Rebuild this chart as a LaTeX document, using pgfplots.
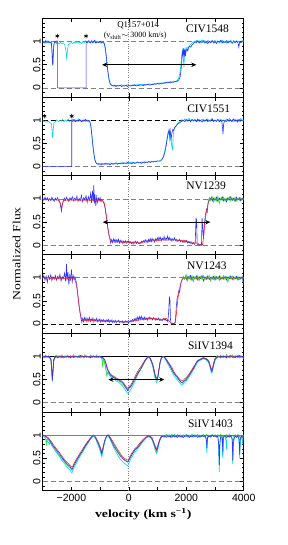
\documentclass[border=0pt]{standalone}
\usepackage{fontspec}
\setmainfont{Liberation Serif}
\setsansfont{Liberation Sans}
\newfontfamily\widefont[FakeStretch=1.25]{Liberation Serif}
\usepackage{pgfplots}
\pgfplotsset{compat=1.18}
\usetikzlibrary{arrows.meta}
\definecolor{sblue}{RGB}{50,50,255}
\definecolor{scyan}{RGB}{0,215,230}
\definecolor{sred}{RGB}{255,40,40}
\definecolor{sgreen}{RGB}{40,225,40}
\tikzset{plab/.style={font=\fontsize{11.5}{13}\selectfont}}
\pgfplotsset{
 panel/.style={scale only axis, width=201pt, height=78.7pt, xmin=-3000, xmax=4000, ymin=-0.2, ymax=1.5, anchor=south west,
  xtick={-3000,-2000,...,4000}, xticklabels={}, ytick={0,0.5,1}, yticklabels={0,0.5,1},
  minor ytick={-0.1,0.1,0.2,0.3,0.4,0.6,0.7,0.8,0.9,1.1,1.2,1.3,1.4},
  tick align=inside, major tick length=4pt, minor tick length=2pt,
  axis line style={line width=0.8pt}, every tick/.style={black, line width=0.6pt},
  yticklabel style={rotate=90, anchor=south, font=\sffamily\fontsize{10.5}{12}\selectfont, inner sep=2pt},
  xticklabel style={font=\sffamily\fontsize{10.5}{12}\selectfont},
  every axis plot/.append style={line width=0.6pt},
 },
 zero/.style={gray, dash pattern=on 5pt off 3pt, line width=0.7pt},
 zdot/.style={gray, dash pattern=on 0.8pt off 1.6pt, line width=0.7pt},
 arr/.style={black, line width=0.9pt, <->, >={Stealth[length=5pt,width=4.5pt]}},
}
\begin{document}
\begin{tikzpicture}
\useasboundingbox (0,0) rectangle (287pt,545pt);

% ---------------- Panel 1: CIV1548
\begin{axis}[panel, at={(42.7pt,447.8pt)}]
\addplot[zero] coordinates {(-3000,0)(4000,0)};
\addplot[zero] coordinates {(-3000,1)(4000,1)};
\addplot[zdot] coordinates {(0,-0.2)(0,1.5)};
\addplot[scyan] coordinates {(-3000,0.98)(-2950,1.01)(-2900,0.97)(-2850,1.02)(-2800,0.98)(-2750,1.00)(-2700,0.96)(-2680,0.80)(-2655,0.50)(-2635,0.70)(-2610,0.93)(-2570,0.99)(-2520,0.96)(-2480,0.98)(-2430,0.95)(-2380,0.98)(-2330,0.96)(-2280,0.97)(-2230,0.93)(-2190,0.80)(-2165,0.65)(-2140,0.80)(-2110,0.93)(-2060,0.96)(-2000,0.98)(-1950,0.96)(-1900,0.99)(-1850,0.97)(-1800,1.00)(-1750,0.97)(-1700,0.99)(-1650,0.96)(-1600,1.00)(-1550,0.98)(-1500,1.02)(-1450,0.97)(-1400,1.00)(-1350,0.98)(-1300,1.03)(-1250,0.97)(-1200,0.99)(-1150,1.02)(-1100,0.98)(-1050,1.00)(-1000,0.97)(-950,1.01)(-900,0.98)(-860,0.95)(-830,0.86)(-800,0.72)(-770,0.55)(-740,0.38)(-710,0.24)(-680,0.14)(-650,0.09)(-620,0.06)(-580,0.05)(-540,0.06)(-500,0.04)(-450,0.06)(-400,0.04)(-350,0.06)(-300,0.05)(-250,0.07)(-200,0.04)(-150,0.06)(-100,0.05)(-50,0.07)(0,0.05)(50,0.06)(100,0.04)(150,0.07)(200,0.05)(250,0.07)(300,0.06)(350,0.08)(400,0.06)(450,0.07)(500,0.08)(550,0.06)(600,0.08)(650,0.07)(700,0.09)(750,0.08)(800,0.07)(850,0.09)(900,0.08)(950,0.10)(1000,0.09)(1050,0.11)(1100,0.10)(1150,0.11)(1200,0.10)(1250,0.12)(1300,0.11)(1350,0.13)(1400,0.12)(1450,0.14)(1500,0.12)(1550,0.14)(1600,0.13)(1650,0.15)(1700,0.17)(1740,0.22)(1780,0.32)(1810,0.50)(1840,0.70)(1870,0.82)(1900,0.60)(1920,0.45)(1940,0.75)(1960,0.85)(1990,0.78)(2020,0.88)(2060,0.85)(2100,0.91)(2150,0.94)(2200,0.97)(2250,1.00)(2300,0.98)(2350,1.03)(2400,0.99)(2450,1.02)(2500,0.98)(2550,1.04)(2600,0.99)(2650,1.02)(2700,0.97)(2750,1.03)(2800,1.00)(2850,0.97)(2900,1.01)(2950,0.99)(3000,1.03)(3050,0.98)(3100,1.02)(3150,0.97)(3200,1.00)(3250,1.03)(3300,0.98)(3350,1.01)(3400,0.97)(3450,1.02)(3500,0.99)(3550,1.03)(3600,0.98)(3650,1.00)(3700,0.97)(3750,1.02)(3800,0.99)(3850,1.01)(3900,0.97)(3950,1.00)(4000,1.02)};
\addplot[sblue] coordinates {(-3000,1.00)(-2950,0.97)(-2900,1.02)(-2850,0.98)(-2800,1.01)(-2750,0.97)(-2700,0.99)(-2680,0.85)(-2660,0.55)(-2645,0.48)(-2630,0.75)(-2610,0.95)(-2570,1.01)(-2530,0.98)(-2500,1.02)(-2490,1.00)(-2490,0)(-1490,0)(-1490,1.00)(-1450,0.98)(-1400,1.02)(-1350,0.97)(-1300,1.00)(-1250,0.98)(-1200,1.03)(-1150,0.97)(-1100,1.00)(-1050,0.98)(-1000,1.01)(-950,0.97)(-900,1.00)(-860,0.97)(-830,0.90)(-800,0.78)(-770,0.60)(-740,0.42)(-710,0.27)(-680,0.16)(-650,0.10)(-620,0.07)(-580,0.05)(-540,0.04)(-500,0.06)(-450,0.03)(-400,0.05)(-350,0.04)(-300,0.06)(-250,0.03)(-200,0.05)(-150,0.04)(-100,0.06)(-50,0.03)(0,0.05)(50,0.04)(100,0.06)(150,0.05)(200,0.07)(250,0.04)(300,0.06)(350,0.05)(400,0.07)(450,0.06)(500,0.05)(550,0.07)(600,0.06)(650,0.08)(700,0.07)(750,0.06)(800,0.08)(850,0.07)(900,0.09)(950,0.08)(1000,0.10)(1050,0.08)(1100,0.10)(1150,0.09)(1200,0.11)(1250,0.10)(1300,0.12)(1350,0.11)(1400,0.12)(1450,0.11)(1500,0.13)(1550,0.12)(1600,0.14)(1650,0.13)(1700,0.15)(1750,0.18)(1790,0.25)(1820,0.40)(1850,0.62)(1870,0.78)(1890,0.70)(1910,0.86)(1930,0.72)(1950,0.83)(1970,0.68)(1990,0.80)(2020,0.84)(2050,0.80)(2080,0.87)(2120,0.90)(2160,0.88)(2200,0.93)(2250,0.96)(2300,1.00)(2350,0.98)(2400,1.02)(2450,0.97)(2500,1.01)(2550,0.98)(2600,1.02)(2650,0.97)(2700,1.00)(2750,0.96)(2800,1.01)(2850,0.98)(2900,1.03)(2950,0.97)(3000,1.00)(3050,0.96)(3100,1.01)(3150,0.99)(3200,1.03)(3250,0.97)(3300,1.00)(3350,0.98)(3400,1.02)(3450,0.97)(3500,1.01)(3550,0.99)(3600,0.96)(3650,1.02)(3700,0.98)(3750,1.01)(3800,0.97)(3830,0.88)(3860,1.00)(3900,0.98)(3950,1.02)(4000,0.99)};
\addplot[only marks, mark=asterisk, mark size=2.2pt, black, mark options={line width=0.6pt}] coordinates {(-2490,1.12)(-1490,1.12)};
\addplot[arr] coordinates {(-930,0.5)(2350,0.5)};
\node[plab] at (axis cs:2740,1.27) {CIV1548};
\node[font=\fontsize{8.8}{10}\selectfont, inner sep=0pt] at (axis cs:325,1.36) {Q1157+014};
\node[font=\fontsize{8}{9}\selectfont, inner sep=0pt] at (axis cs:220,1.13) {(v$_{\rm shift}$$\sim$ 3000 km/s)};
\end{axis}

% ---------------- Panel 2: CIV1551
\begin{axis}[panel, at={(42.7pt,369.1pt)}]
\addplot[zero] coordinates {(-3000,0)(4000,0)};
\addplot[zero, black] coordinates {(-3000,1)(4000,1)};
\addplot[zdot] coordinates {(0,-0.2)(0,1.5)};
\addplot[scyan] coordinates {(-3000,1.00)(-2950,0.97)(-2900,0.99)(-2850,0.96)(-2800,0.98)(-2750,0.95)(-2700,0.93)(-2675,0.80)(-2655,0.62)(-2635,0.78)(-2610,0.95)(-2560,0.97)(-2510,1.01)(-2460,0.97)(-2410,1.00)(-2360,0.98)(-2310,1.02)(-2260,0.97)(-2210,1.01)(-2160,0.98)(-2110,1.03)(-2060,0.97)(-2010,1.00)(-1960,1.02)(-1910,0.97)(-1860,1.01)(-1810,0.98)(-1760,1.03)(-1710,0.99)(-1660,1.01)(-1610,0.97)(-1560,1.02)(-1510,0.98)(-1460,1.01)(-1410,0.97)(-1370,1.00)(-1340,0.93)(-1310,0.82)(-1280,0.64)(-1250,0.46)(-1220,0.30)(-1190,0.18)(-1160,0.11)(-1130,0.07)(-1100,0.06)(-1050,0.07)(-1000,0.05)(-950,0.07)(-900,0.06)(-850,0.07)(-800,0.05)(-750,0.07)(-700,0.06)(-650,0.08)(-600,0.06)(-550,0.07)(-500,0.06)(-450,0.08)(-400,0.07)(-350,0.06)(-300,0.08)(-250,0.07)(-200,0.09)(-150,0.07)(-100,0.08)(-50,0.06)(0,0.09)(50,0.08)(100,0.10)(150,0.08)(200,0.09)(250,0.08)(300,0.10)(350,0.09)(400,0.08)(450,0.10)(500,0.09)(550,0.11)(600,0.09)(650,0.10)(700,0.11)(750,0.10)(800,0.12)(850,0.10)(900,0.12)(950,0.11)(1000,0.13)(1050,0.12)(1100,0.14)(1150,0.16)(1200,0.22)(1250,0.33)(1300,0.50)(1340,0.66)(1370,0.75)(1400,0.70)(1430,0.55)(1460,0.75)(1490,0.45)(1520,0.38)(1550,0.70)(1580,0.82)(1620,0.86)(1660,0.90)(1700,0.93)(1750,0.96)(1800,0.98)(1850,1.02)(1900,0.99)(1950,1.03)(2000,0.98)(2050,1.01)(2100,1.04)(2150,0.99)(2200,1.02)(2250,0.98)(2300,1.03)(2350,1.00)(2400,0.98)(2450,1.02)(2500,0.99)(2550,1.03)(2600,0.98)(2650,1.01)(2700,0.99)(2750,1.03)(2800,0.98)(2850,1.01)(2900,1.04)(2950,0.99)(3000,1.01)(3050,0.98)(3100,1.02)(3150,0.99)(3200,1.03)(3250,0.98)(3300,1.01)(3350,0.99)(3400,1.02)(3450,0.98)(3500,1.04)(3550,0.99)(3600,1.01)(3650,0.98)(3700,1.03)(3750,0.99)(3800,1.02)(3850,0.98)(3900,1.04)(3950,0.99)(4000,1.01)};
\addplot[sblue] coordinates {(-3000,0)(-1990,0)(-1990,1.00)(-1960,0.98)(-1910,1.02)(-1860,0.97)(-1810,1.00)(-1760,0.98)(-1710,1.02)(-1660,0.97)(-1610,1.00)(-1560,0.98)(-1510,1.02)(-1460,0.98)(-1410,1.00)(-1360,0.97)(-1330,0.90)(-1300,0.75)(-1270,0.55)(-1240,0.38)(-1210,0.24)(-1180,0.14)(-1150,0.09)(-1110,0.06)(-1060,0.05)(-1000,0.06)(-950,0.04)(-900,0.06)(-850,0.05)(-800,0.07)(-750,0.05)(-700,0.06)(-650,0.04)(-600,0.07)(-550,0.05)(-500,0.06)(-450,0.08)(-400,0.05)(-350,0.07)(-300,0.06)(-250,0.08)(-200,0.06)(-150,0.08)(-100,0.07)(-50,0.09)(0,0.07)(50,0.08)(100,0.06)(150,0.09)(200,0.07)(250,0.08)(300,0.10)(350,0.08)(400,0.09)(450,0.07)(500,0.10)(550,0.08)(600,0.10)(650,0.09)(700,0.11)(750,0.09)(800,0.11)(850,0.10)(900,0.12)(950,0.11)(1000,0.12)(1050,0.12)(1100,0.12)(1150,0.15)(1200,0.20)(1250,0.30)(1300,0.45)(1340,0.62)(1370,0.72)(1400,0.80)(1420,0.68)(1440,0.78)(1470,0.60)(1500,0.72)(1530,0.80)(1560,0.78)(1600,0.85)(1650,0.88)(1700,0.92)(1750,0.94)(1800,0.96)(1850,0.98)(1900,1.00)(1950,0.97)(2000,1.02)(2050,0.98)(2100,1.01)(2150,0.97)(2200,1.02)(2250,0.99)(2300,1.01)(2350,0.97)(2400,1.03)(2450,0.98)(2500,1.00)(2550,0.96)(2600,1.01)(2650,0.98)(2700,1.02)(2750,0.97)(2800,1.00)(2850,0.98)(2900,1.03)(2950,0.97)(3000,1.00)(3050,0.98)(3100,1.02)(3150,0.97)(3200,0.99)(3240,0.97)(3260,0.85)(3280,0.70)(3300,0.92)(3340,1.00)(3390,0.97)(3440,1.02)(3490,0.98)(3540,1.01)(3590,0.97)(3640,1.03)(3690,0.98)(3740,1.00)(3790,0.96)(3840,1.02)(3890,0.98)(3940,1.01)(4000,0.99)};
\addplot[only marks, mark=asterisk, mark size=2.2pt, black, mark options={line width=0.6pt}] coordinates {(-2940,1.09)(-1990,1.09)};
\node[plab] at (axis cs:2780,1.25) {CIV1551};
\end{axis}

% ---------------- Panel 3: NV1239
\begin{axis}[panel, at={(42.7pt,290.4pt)}]
\addplot[zero] coordinates {(-3000,0)(4000,0)};
\addplot[zero] coordinates {(-3000,1)(4000,1)};
\addplot[zdot] coordinates {(0,-0.2)(0,1.5)};
\addplot[sblue] coordinates {(-3000,1.02)(-2960,0.97)(-2920,1.04)(-2880,0.98)(-2840,1.03)(-2800,0.96)(-2760,1.01)(-2720,0.97)(-2680,1.04)(-2640,0.99)(-2600,0.95)(-2560,1.02)(-2520,0.98)(-2480,1.03)(-2440,0.96)(-2400,0.92)(-2370,0.82)(-2345,0.74)(-2320,0.85)(-2290,0.95)(-2250,1.02)(-2210,0.97)(-2170,1.04)(-2130,0.99)(-2090,0.95)(-2050,1.03)(-2010,0.98)(-1970,1.05)(-1930,0.96)(-1890,1.02)(-1850,0.98)(-1810,1.06)(-1770,0.95)(-1730,1.01)(-1690,0.97)(-1650,1.08)(-1610,0.94)(-1570,1.03)(-1530,0.99)(-1490,1.07)(-1450,0.93)(-1410,1.05)(-1370,0.97)(-1330,1.12)(-1300,0.92)(-1270,1.18)(-1240,0.95)(-1220,1.30)(-1200,0.90)(-1180,1.10)(-1150,0.85)(-1120,1.05)(-1090,0.93)(-1060,1.02)(-1030,0.97)(-1000,1.03)(-970,0.94)(-940,0.99)(-900,0.95)(-860,0.90)(-820,0.78)(-780,0.60)(-740,0.40)(-700,0.24)(-660,0.14)(-630,0.05)(-600,0.12)(-570,0.06)(-540,0.14)(-510,0.08)(-480,0.13)(-450,0.06)(-420,0.12)(-390,0.07)(-360,0.13)(-330,0.05)(-300,0.11)(-270,0.07)(-240,0.10)(-210,0.04)(-180,0.09)(-150,0.06)(-120,0.10)(-90,0.05)(-60,0.09)(-30,0.07)(0,0.10)(30,0.05)(60,0.08)(90,0.04)(120,0.07)(150,0.03)(180,0.08)(210,0.05)(240,0.09)(270,0.04)(300,0.08)(330,0.05)(360,0.03)(390,0.07)(420,0.04)(450,0.09)(480,0.06)(510,0.10)(540,0.07)(570,0.12)(600,0.08)(630,0.11)(660,0.06)(690,0.13)(720,0.09)(750,0.14)(780,0.08)(810,0.15)(840,0.10)(870,0.13)(900,0.07)(930,0.14)(960,0.10)(990,0.16)(1020,0.11)(1050,0.18)(1080,0.12)(1110,0.17)(1140,0.10)(1170,0.15)(1200,0.12)(1230,0.19)(1260,0.11)(1290,0.16)(1320,0.13)(1350,0.20)(1380,0.12)(1410,0.17)(1440,0.11)(1470,0.15)(1500,0.09)(1530,0.14)(1560,0.11)(1590,0.16)(1620,0.10)(1650,0.13)(1680,0.08)(1710,0.12)(1740,0.09)(1770,0.13)(1800,0.08)(1830,0.11)(1860,0.07)(1890,0.10)(1920,0.06)(1950,0.09)(1980,0.07)(2010,0.10)(2040,0.05)(2070,0.08)(2100,0.05)(2130,0.07)(2160,0.04)(2190,0.06)(2220,0.03)(2250,0.05)(2280,0.02)(2310,0.04)(2340,0.58)(2360,0.55)(2380,0.03)(2410,0.01)(2440,0.02)(2470,0.00)(2500,0.02)(2530,0.01)(2550,0.60)(2570,0.40)(2600,0.15)(2630,0.45)(2660,0.62)(2700,0.78)(2730,0.72)(2760,0.92)(2790,0.97)(2820,1.03)(2850,0.98)(2880,1.04)(2910,0.96)(2950,1.02)(3000,0.97)(3050,1.04)(3100,0.95)(3150,1.02)(3200,0.98)(3250,1.05)(3300,0.96)(3350,1.01)(3400,0.94)(3450,1.03)(3500,0.98)(3550,1.05)(3600,0.97)(3650,1.02)(3700,0.95)(3750,1.04)(3800,0.98)(3850,1.03)(3900,0.96)(3950,1.02)(4000,0.99)};
\addplot[sgreen] coordinates {(2750,0.95)(2800,1.02)(2850,0.97)(2900,1.05)(2950,0.93)(3000,1.03)(3050,0.96)(3100,1.06)(3150,0.90)(3200,1.02)(3250,0.97)(3300,1.04)(3350,0.95)(3400,1.01)(3450,0.97)(3500,1.05)(3550,0.96)(3600,1.02)(3650,0.98)(3700,1.04)(3750,0.96)(3800,1.01)(3850,0.97)(3900,1.03)(3950,0.98)(4000,1.01)};
\addplot[sred] coordinates {(-3000,1.00)(-2900,0.99)(-2800,1.00)(-2700,0.98)(-2600,0.99)(-2500,0.98)(-2420,0.97)(-2380,0.90)(-2350,0.80)(-2320,0.88)(-2280,0.96)(-2200,0.98)(-2100,0.97)(-2000,0.98)(-1900,0.97)(-1800,0.98)(-1700,0.97)(-1600,0.98)(-1500,0.97)(-1400,0.98)(-1300,0.97)(-1200,0.98)(-1100,0.97)(-1000,0.97)(-900,0.96)(-860,0.92)(-820,0.80)(-780,0.62)(-740,0.42)(-700,0.26)(-660,0.15)(-620,0.10)(-570,0.08)(-500,0.07)(-400,0.08)(-300,0.07)(-200,0.06)(-100,0.07)(0,0.06)(100,0.07)(200,0.05)(300,0.06)(400,0.05)(500,0.07)(600,0.07)(700,0.08)(800,0.09)(900,0.10)(1000,0.10)(1100,0.11)(1200,0.12)(1300,0.11)(1400,0.12)(1500,0.13)(1600,0.12)(1700,0.11)(1800,0.10)(1900,0.11)(2000,0.10)(2100,0.08)(2200,0.07)(2300,0.05)(2400,0.05)(2450,0.02)(2500,0.00)(2560,0.00)(2600,0.15)(2640,0.45)(2680,0.65)(2720,0.78)(2760,0.90)(2800,0.97)(2850,1.00)(2900,1.00)(3000,0.99)(3100,1.00)(3200,0.99)(3300,1.00)(3400,0.99)(3500,1.00)(3600,0.99)(3700,1.00)(3800,0.99)(3900,1.00)(4000,1.00)};
\addplot[arr] coordinates {(-907,0.5)(2837,0.5)};
\node[plab] at (axis cs:2690,1.28) {NV1239};
\end{axis}

% ---------------- Panel 4: NV1243
\begin{axis}[panel, at={(42.7pt,211.7pt)}]
\addplot[zero, black] coordinates {(-3000,0)(4000,0)};
\addplot[zero] coordinates {(-3000,1)(4000,1)};
\addplot[zdot] coordinates {(0,-0.2)(0,1.5)};
\addplot[sblue] coordinates {(-3000,0.98)(-2960,1.05)(-2920,0.95)(-2880,1.03)(-2840,0.90)(-2800,1.04)(-2760,0.97)(-2720,1.06)(-2680,0.94)(-2640,1.02)(-2600,0.97)(-2560,1.05)(-2520,0.95)(-2480,1.03)(-2440,0.98)(-2400,1.07)(-2360,0.93)(-2320,1.02)(-2280,0.98)(-2240,1.10)(-2200,0.92)(-2170,1.30)(-2150,0.95)(-2120,1.12)(-2090,0.85)(-2060,1.05)(-2030,0.96)(-2000,1.18)(-1970,0.92)(-1940,1.05)(-1910,0.97)(-1880,1.02)(-1850,0.95)(-1820,0.88)(-1790,0.70)(-1760,0.55)(-1730,0.38)(-1700,0.25)(-1670,0.13)(-1640,0.04)(-1610,0.12)(-1580,0.05)(-1550,0.14)(-1520,0.08)(-1490,0.13)(-1460,0.05)(-1430,0.12)(-1400,0.07)(-1370,0.14)(-1340,0.06)(-1310,0.11)(-1280,0.08)(-1250,0.13)(-1220,0.05)(-1190,0.10)(-1160,0.07)(-1130,0.12)(-1100,0.05)(-1070,0.10)(-1040,0.06)(-1010,0.11)(-980,0.04)(-950,0.09)(-920,0.06)(-890,0.10)(-860,0.05)(-830,0.08)(-800,0.04)(-770,0.09)(-740,0.06)(-710,0.10)(-680,0.04)(-650,0.08)(-620,0.05)(-590,0.09)(-560,0.03)(-530,0.07)(-500,0.04)(-470,0.08)(-440,0.03)(-410,0.07)(-380,0.05)(-350,0.08)(-320,0.03)(-290,0.06)(-260,0.04)(-230,0.07)(-200,0.02)(-170,0.06)(-140,0.03)(-110,0.07)(-80,0.04)(-50,0.06)(-20,0.02)(10,0.06)(40,0.04)(70,0.08)(100,0.05)(130,0.10)(160,0.06)(190,0.11)(220,0.07)(250,0.13)(280,0.08)(310,0.15)(340,0.09)(370,0.16)(400,0.10)(430,0.17)(460,0.11)(490,0.14)(520,0.09)(550,0.15)(580,0.10)(610,0.13)(640,0.08)(670,0.14)(700,0.10)(730,0.15)(760,0.11)(790,0.13)(820,0.09)(850,0.14)(880,0.10)(910,0.12)(940,0.08)(970,0.11)(1000,0.09)(1030,0.13)(1060,0.08)(1090,0.11)(1120,0.07)(1150,0.10)(1180,0.08)(1210,0.12)(1240,0.09)(1270,0.11)(1300,0.07)(1330,0.09)(1360,0.05)(1390,0.30)(1410,0.58)(1430,0.55)(1450,0.10)(1470,0.02)(1500,0.00)(1530,0.02)(1560,0.00)(1590,0.02)(1620,0.05)(1650,0.35)(1680,0.55)(1710,0.62)(1740,0.72)(1770,0.68)(1800,0.85)(1830,0.92)(1860,0.97)(1900,1.02)(1940,0.97)(1980,1.04)(2020,0.95)(2060,1.03)(2100,0.98)(2150,1.05)(2200,0.94)(2250,1.02)(2300,0.97)(2350,1.04)(2400,0.95)(2450,1.02)(2500,0.98)(2550,1.05)(2600,0.93)(2650,1.02)(2700,0.97)(2750,1.04)(2800,0.96)(2850,1.01)(2900,0.97)(2950,1.03)(3000,0.95)(3050,1.02)(3100,0.98)(3150,1.04)(3200,0.96)(3250,1.01)(3300,0.97)(3350,1.03)(3400,0.95)(3450,1.02)(3500,0.98)(3550,1.04)(3600,0.96)(3650,1.02)(3700,0.97)(3750,1.03)(3800,0.95)(3850,1.01)(3900,0.97)(3950,1.03)(3980,0.88)(4000,0.98)};
\addplot[sgreen] coordinates {(1850,0.95)(1900,1.03)(1950,0.97)(2000,1.06)(2050,0.93)(2100,1.04)(2150,0.96)(2200,1.05)(2250,0.92)(2300,1.02)(2350,0.97)(2400,1.05)(2450,0.94)(2500,1.03)(2550,0.96)(2600,1.04)(2650,0.95)(2700,1.02)(2750,0.97)(2800,1.05)(2850,0.93)(2900,1.03)(2950,0.96)(3000,1.04)(3050,0.97)(3100,1.02)(3150,0.94)(3200,1.03)(3250,0.97)(3300,1.05)(3350,0.96)(3400,1.02)(3450,0.90)(3500,1.03)(3550,0.97)(3600,1.04)(3650,0.95)(3700,1.02)(3750,0.98)(3800,1.03)(3850,0.96)(3900,1.02)(3950,0.98)(4000,1.01)};
\addplot[sred] coordinates {(-3000,1.00)(-2900,0.99)(-2800,1.00)(-2700,0.98)(-2600,0.99)(-2500,0.98)(-2400,0.99)(-2300,0.98)(-2200,0.99)(-2100,0.98)(-2000,0.99)(-1950,0.98)(-1900,0.97)(-1860,0.93)(-1820,0.82)(-1780,0.64)(-1740,0.42)(-1700,0.25)(-1660,0.14)(-1620,0.09)(-1560,0.07)(-1500,0.08)(-1400,0.07)(-1300,0.08)(-1200,0.07)(-1100,0.06)(-1000,0.07)(-900,0.06)(-800,0.07)(-700,0.05)(-600,0.06)(-500,0.05)(-400,0.06)(-300,0.05)(-200,0.04)(-100,0.05)(0,0.05)(100,0.06)(200,0.07)(300,0.08)(400,0.09)(500,0.10)(600,0.11)(700,0.12)(800,0.11)(900,0.12)(1000,0.11)(1100,0.10)(1200,0.11)(1300,0.12)(1350,0.10)(1400,0.07)(1450,0.03)(1500,0.01)(1560,0.00)(1620,0.03)(1660,0.25)(1700,0.50)(1740,0.68)(1780,0.80)(1820,0.90)(1860,0.96)(1900,0.99)(1950,1.00)(2000,0.99)(2200,1.00)(2400,0.99)(2600,1.00)(2800,0.99)(3000,1.00)(3200,0.99)(3400,1.00)(3600,0.99)(3800,1.00)(4000,0.99)};
\node[plab] at (axis cs:2720,1.26) {NV1243};
\end{axis}

% ---------------- Panel 5: SiIV1394
\begin{axis}[panel, at={(42.7pt,133.0pt)}]
\addplot[zero] coordinates {(-3000,0)(4000,0)};
\addplot[black, line width=0.7pt] coordinates {(-3000,1)(4000,1)};
\addplot[zdot] coordinates {(0,-0.2)(0,1.5)};
\addplot[scyan] coordinates {(-3000,0.99)(-2950,1.01)(-2900,0.98)(-2850,1.00)(-2800,0.97)(-2750,0.99)(-2710,0.90)(-2685,0.66)(-2665,0.46)(-2640,0.68)(-2615,0.90)(-2580,0.97)(-2530,0.99)(-2480,1.01)(-2430,0.98)(-2380,1.00)(-2330,0.97)(-2280,0.99)(-2230,1.01)(-2180,0.98)(-2130,1.00)(-2080,0.97)(-2030,0.99)(-1980,1.01)(-1930,0.97)(-1880,0.99)(-1830,1.01)(-1780,0.98)(-1730,1.00)(-1680,0.97)(-1630,1.00)(-1580,0.98)(-1530,1.01)(-1480,0.98)(-1430,1.00)(-1380,0.98)(-1330,1.00)(-1280,0.97)(-1230,1.00)(-1180,0.98)(-1130,1.00)(-1080,0.97)(-1030,0.99)(-980,0.98)(-930,0.96)(-880,0.93)(-840,0.85)(-800,0.72)(-770,0.60)(-740,0.66)(-700,0.62)(-660,0.58)(-620,0.55)(-580,0.53)(-530,0.51)(-480,0.49)(-430,0.47)(-380,0.45)(-330,0.43)(-280,0.40)(-230,0.37)(-180,0.33)(-130,0.28)(-90,0.24)(-50,0.21)(-20,0.19)(10,0.23)(40,0.26)(80,0.30)(120,0.35)(160,0.40)(200,0.45)(250,0.52)(300,0.59)(350,0.65)(400,0.70)(450,0.76)(500,0.82)(550,0.88)(600,0.93)(650,0.97)(690,0.99)(730,0.96)(780,0.88)(830,0.78)(870,0.66)(910,0.54)(950,0.46)(975,0.43)(1005,0.52)(1050,0.70)(1090,0.86)(1130,0.95)(1180,0.99)(1230,0.98)(1280,0.93)(1330,0.87)(1380,0.81)(1430,0.75)(1480,0.69)(1530,0.63)(1580,0.58)(1630,0.54)(1680,0.50)(1730,0.46)(1780,0.42)(1820,0.39)(1860,0.38)(1900,0.41)(1950,0.44)(2000,0.47)(2050,0.52)(2100,0.56)(2150,0.61)(2200,0.66)(2250,0.71)(2300,0.77)(2350,0.83)(2400,0.88)(2450,0.91)(2500,0.92)(2550,0.94)(2600,0.95)(2650,0.94)(2700,0.92)(2750,0.89)(2800,0.83)(2840,0.72)(2880,0.64)(2910,0.67)(2950,0.80)(3000,0.91)(3050,0.96)(3100,0.98)(3150,1.00)(3200,0.97)(3250,1.00)(3300,0.98)(3350,1.01)(3400,0.98)(3450,1.00)(3500,0.97)(3550,1.00)(3600,0.99)(3650,1.01)(3700,0.98)(3750,1.00)(3800,0.97)(3850,1.00)(3900,0.99)(3950,1.01)(4000,0.98)};
\addplot[sgreen] coordinates {(-3000,1.01)(-2950,0.97)(-2900,1.03)(-2850,0.98)(-2800,1.02)(-2750,0.96)(-2710,0.92)(-2685,0.68)(-2663,0.46)(-2640,0.72)(-2615,0.93)(-2580,1.00)(-2530,1.03)(-2480,0.97)(-2430,1.02)(-2380,0.98)(-2330,1.04)(-2280,0.97)(-2230,1.01)(-2180,0.98)(-2130,1.03)(-2080,0.97)(-2030,1.02)(-1980,0.99)(-1930,1.04)(-1880,0.98)(-1830,1.01)(-1780,0.97)(-1730,1.03)(-1680,0.98)(-1630,1.02)(-1580,0.97)(-1530,1.04)(-1480,0.98)(-1430,1.01)(-1380,0.97)(-1330,1.03)(-1280,0.99)(-1230,1.02)(-1180,0.97)(-1130,1.03)(-1080,0.98)(-1030,1.01)(-980,0.98)(-940,0.95)(-915,0.80)(-895,0.92)(-860,0.90)(-820,0.80)(-790,0.68)(-765,0.58)(-740,0.65)(-700,0.64)(-660,0.60)(-620,0.58)(-580,0.56)(-530,0.54)(-480,0.52)(-430,0.50)(-380,0.48)(-330,0.46)(-280,0.44)(-230,0.41)(-180,0.38)(-130,0.34)(-90,0.31)(-50,0.29)(-20,0.28)(10,0.31)(40,0.34)(80,0.37)(120,0.41)(160,0.46)(200,0.51)(250,0.57)(300,0.63)(350,0.68)(400,0.72)(450,0.78)(500,0.84)(550,0.90)(600,0.95)(650,0.99)(690,1.01)(730,0.97)(780,0.90)(830,0.81)(870,0.70)(910,0.58)(950,0.50)(980,0.48)(1010,0.55)(1050,0.72)(1090,0.87)(1130,0.96)(1180,1.00)(1230,0.99)(1280,0.95)(1330,0.90)(1380,0.84)(1430,0.79)(1480,0.73)(1530,0.67)(1580,0.62)(1630,0.58)(1680,0.55)(1730,0.50)(1780,0.47)(1820,0.44)(1860,0.42)(1900,0.45)(1950,0.48)(2000,0.51)(2050,0.55)(2100,0.60)(2150,0.65)(2200,0.70)(2250,0.75)(2300,0.81)(2350,0.87)(2400,0.91)(2450,0.93)(2500,0.95)(2550,0.96)(2600,0.98)(2650,0.96)(2700,0.95)(2750,0.92)(2800,0.87)(2840,0.77)(2880,0.70)(2910,0.72)(2950,0.84)(3000,0.95)(3050,0.99)(3100,1.02)(3150,0.98)(3200,1.03)(3250,0.97)(3300,1.02)(3350,0.98)(3400,1.04)(3450,0.97)(3500,1.02)(3550,0.98)(3600,1.03)(3650,0.97)(3700,1.02)(3750,0.99)(3800,1.03)(3850,0.97)(3900,1.02)(3950,0.98)(4000,0.95)};
\addplot[sred] coordinates {(-3000,1.00)(-2900,0.99)(-2800,1.00)(-2720,0.96)(-2690,0.75)(-2663,0.52)(-2640,0.74)(-2610,0.94)(-2550,0.99)(-2400,1.00)(-2200,0.99)(-2000,1.00)(-1800,0.99)(-1600,1.00)(-1400,0.99)(-1200,1.00)(-1000,0.99)(-900,0.97)(-840,0.93)(-800,0.86)(-760,0.78)(-720,0.70)(-680,0.66)(-640,0.62)(-600,0.60)(-550,0.58)(-500,0.56)(-450,0.54)(-400,0.52)(-350,0.51)(-300,0.49)(-250,0.47)(-200,0.44)(-150,0.40)(-100,0.35)(-50,0.31)(0,0.34)(50,0.37)(100,0.42)(150,0.48)(200,0.54)(250,0.61)(300,0.67)(350,0.72)(400,0.76)(450,0.81)(500,0.86)(550,0.91)(600,0.95)(650,0.98)(690,1.00)(730,0.98)(780,0.92)(830,0.84)(870,0.74)(910,0.62)(950,0.55)(980,0.53)(1010,0.58)(1050,0.74)(1090,0.89)(1130,0.97)(1180,1.00)(1230,0.99)(1280,0.96)(1330,0.92)(1380,0.87)(1430,0.83)(1480,0.78)(1530,0.72)(1580,0.66)(1630,0.61)(1680,0.58)(1730,0.54)(1780,0.50)(1820,0.48)(1860,0.47)(1900,0.49)(1950,0.52)(2000,0.54)(2050,0.58)(2100,0.62)(2150,0.67)(2200,0.72)(2250,0.77)(2300,0.82)(2350,0.87)(2400,0.91)(2450,0.93)(2500,0.94)(2550,0.96)(2600,0.97)(2650,0.96)(2700,0.95)(2750,0.93)(2800,0.88)(2840,0.79)(2880,0.72)(2910,0.74)(2950,0.85)(3000,0.95)(3050,0.98)(3100,1.00)(3300,0.99)(3500,1.00)(3700,0.99)(3900,1.00)(4000,1.00)};
\addplot[sblue] coordinates {(-3000,1.00)(-2950,0.98)(-2900,1.01)(-2850,0.99)(-2800,1.00)(-2750,0.97)(-2710,0.93)(-2685,0.70)(-2663,0.48)(-2640,0.70)(-2615,0.92)(-2580,0.98)(-2530,1.00)(-2480,0.97)(-2430,0.99)(-2380,1.01)(-2330,0.98)(-2280,1.00)(-2230,0.98)(-2180,1.01)(-2130,0.99)(-2080,1.00)(-2030,0.97)(-1980,1.00)(-1930,0.98)(-1880,1.01)(-1830,0.99)(-1780,1.00)(-1730,0.98)(-1680,1.02)(-1630,0.99)(-1580,1.00)(-1530,0.98)(-1480,1.01)(-1430,0.99)(-1380,1.00)(-1330,0.97)(-1280,1.01)(-1230,0.99)(-1180,1.00)(-1130,0.98)(-1080,1.01)(-1030,0.99)(-980,1.00)(-930,0.98)(-880,0.96)(-840,0.92)(-800,0.84)(-760,0.75)(-720,0.68)(-680,0.64)(-640,0.60)(-600,0.58)(-550,0.56)(-500,0.54)(-450,0.52)(-400,0.50)(-350,0.49)(-300,0.47)(-250,0.45)(-200,0.42)(-150,0.37)(-100,0.32)(-60,0.28)(-40,0.26)(-20,0.30)(0,0.32)(40,0.33)(80,0.36)(120,0.40)(160,0.45)(200,0.50)(250,0.56)(300,0.62)(350,0.67)(400,0.71)(450,0.77)(500,0.83)(550,0.89)(600,0.94)(650,0.98)(690,1.00)(730,0.97)(780,0.90)(830,0.82)(870,0.72)(910,0.60)(950,0.52)(980,0.50)(1010,0.56)(1050,0.72)(1090,0.88)(1130,0.96)(1180,1.00)(1230,0.99)(1280,0.95)(1330,0.90)(1380,0.85)(1430,0.80)(1480,0.74)(1530,0.68)(1580,0.63)(1630,0.59)(1680,0.56)(1730,0.51)(1780,0.47)(1820,0.44)(1860,0.43)(1900,0.46)(1950,0.48)(2000,0.50)(2050,0.55)(2100,0.59)(2150,0.64)(2200,0.69)(2250,0.74)(2300,0.80)(2350,0.86)(2400,0.90)(2450,0.92)(2500,0.93)(2550,0.95)(2600,0.96)(2650,0.95)(2700,0.94)(2750,0.91)(2800,0.86)(2840,0.76)(2880,0.68)(2910,0.70)(2950,0.82)(3000,0.93)(3050,0.97)(3100,0.99)(3150,1.00)(3200,0.98)(3250,1.01)(3300,0.99)(3350,1.00)(3400,0.97)(3450,1.01)(3500,0.99)(3550,1.02)(3600,0.98)(3650,1.00)(3700,0.97)(3750,1.01)(3800,0.99)(3850,1.02)(3900,0.98)(3950,1.00)(4000,0.97)};
\addplot[arr] coordinates {(-711,0.5)(1232,0.5)};
\node[plab] at (axis cs:2840,1.24) {SiIV1394};
\end{axis}

% ---------------- Panel 6: SiIV1403
\begin{axis}[panel, at={(42.7pt,54.3pt)},
  xticklabels={,−2000,,0,,2000,,4000},
  xlabel={\widefont\bfseries\fontsize{11}{13}\selectfont velocity (km s\textsuperscript{−1})}]
\addplot[zero] coordinates {(-3000,0)(4000,0)};
\addplot[gray, line width=0.7pt] coordinates {(-3000,1)(4000,1)};
\addplot[zdot] coordinates {(0,-0.2)(0,1.5)};
\addplot[sgreen] coordinates {(-3000,1.00)(-2950,0.96)(-2900,0.94)(-2870,0.80)(-2840,0.92)(-2800,0.90)(-2750,0.85)(-2700,0.80)(-2650,0.76)(-2600,0.71)(-2500,0.63)(-2400,0.55)(-2300,0.47)(-2200,0.39)(-2100,0.33)(-2000,0.27)(-1950,0.29)(-1900,0.36)(-1800,0.47)(-1700,0.57)(-1600,0.67)(-1500,0.77)(-1400,0.86)(-1300,0.95)(-1240,0.99)(-1150,0.92)(-1050,0.79)(-1000,0.70)(-950,0.58)(-910,0.66)(-850,0.84)(-770,0.98)(-720,1.00)(-650,0.94)(-550,0.83)(-450,0.72)(-350,0.62)(-250,0.53)(-150,0.47)(-80,0.44)(-30,0.42)(20,0.48)(100,0.58)(200,0.67)(300,0.73)(400,0.81)(500,0.88)(600,0.94)(700,0.97)(800,0.93)(900,0.76)(970,0.64)(1040,0.82)(1120,0.96)(1200,1.00)(1250,0.96)(1300,1.02)(1350,0.97)(1400,1.01)(1450,0.95)(1500,1.02)(1550,0.97)(1600,1.01)(1650,0.96)(1700,1.02)(1750,0.97)(1800,1.00)(1850,0.95)(1900,1.01)(1950,0.97)(2000,1.02)(2050,0.96)(2100,1.00)(2150,0.97)(2200,1.02)(2250,0.96)(2300,1.01)(2350,0.97)(2400,1.02)(2450,0.96)(2500,1.00)(2550,0.97)(2600,1.01)(2650,0.96)(2700,1.02)(2750,0.97)(2800,1.00)(2850,0.96)(2900,1.02)(2950,0.97)(3000,1.00)(3050,0.96)(3100,1.01)(3150,0.97)(3200,1.02)(3250,0.96)(3300,1.00)(3350,0.97)(3400,1.01)(3450,0.96)(3500,1.02)(3550,0.97)(3600,1.00)(3650,0.96)(3700,1.01)(3750,0.97)(3800,1.02)(3850,0.96)(3900,1.00)(3950,0.97)(4000,1.01)};
\addplot[sred] coordinates {(-3000,1.00)(-2900,0.98)(-2800,0.94)(-2700,0.86)(-2600,0.77)(-2500,0.69)(-2400,0.61)(-2300,0.52)(-2200,0.44)(-2100,0.38)(-2000,0.31)(-1950,0.33)(-1900,0.40)(-1800,0.51)(-1700,0.61)(-1600,0.71)(-1500,0.81)(-1400,0.89)(-1300,0.97)(-1230,1.00)(-1150,0.95)(-1050,0.83)(-1000,0.75)(-950,0.64)(-910,0.71)(-850,0.87)(-770,0.99)(-720,1.01)(-650,0.96)(-550,0.86)(-450,0.75)(-350,0.65)(-250,0.56)(-150,0.50)(-80,0.47)(-30,0.46)(20,0.51)(100,0.61)(200,0.70)(300,0.76)(400,0.84)(500,0.91)(600,0.96)(700,0.99)(800,0.95)(900,0.80)(970,0.70)(1040,0.85)(1120,0.97)(1200,0.99)(1400,0.98)(1600,0.99)(1800,0.98)(2000,0.99)(2200,0.98)(2400,0.99)(2600,0.98)(2800,0.99)(3000,0.98)(3200,0.99)(3400,0.98)(3600,0.99)(3800,0.98)(4000,0.99)};
\addplot[scyan] coordinates {(-3000,0.98)(-2950,0.97)(-2900,0.93)(-2850,0.88)(-2800,0.84)(-2770,0.80)(-2740,0.86)(-2700,0.79)(-2650,0.74)(-2600,0.70)(-2550,0.65)(-2500,0.61)(-2450,0.56)(-2400,0.52)(-2350,0.47)(-2300,0.43)(-2250,0.39)(-2200,0.35)(-2150,0.31)(-2100,0.28)(-2050,0.25)(-2000,0.20)(-1980,0.18)(-1950,0.24)(-1900,0.31)(-1850,0.37)(-1800,0.43)(-1750,0.49)(-1700,0.54)(-1650,0.59)(-1600,0.64)(-1550,0.70)(-1500,0.75)(-1450,0.80)(-1400,0.85)(-1350,0.90)(-1300,0.94)(-1250,0.97)(-1200,0.98)(-1150,0.91)(-1100,0.83)(-1050,0.75)(-1000,0.66)(-960,0.57)(-940,0.53)(-910,0.63)(-870,0.77)(-820,0.90)(-770,0.97)(-720,0.99)(-670,0.93)(-620,0.86)(-570,0.79)(-520,0.72)(-470,0.66)(-420,0.60)(-370,0.55)(-320,0.50)(-270,0.46)(-220,0.43)(-170,0.40)(-130,0.38)(-90,0.36)(-50,0.34)(-20,0.36)(10,0.40)(50,0.46)(100,0.52)(150,0.57)(200,0.62)(250,0.66)(300,0.70)(350,0.74)(400,0.78)(450,0.83)(500,0.87)(550,0.90)(600,0.94)(650,0.96)(700,0.97)(750,0.95)(800,0.91)(850,0.83)(900,0.72)(940,0.64)(970,0.60)(1000,0.66)(1040,0.79)(1080,0.88)(1120,0.94)(1160,0.97)(1200,0.99)(1250,0.96)(1300,1.00)(1350,0.97)(1400,1.01)(1450,0.96)(1500,0.99)(1550,0.97)(1600,1.01)(1650,0.96)(1700,0.99)(1750,0.97)(1800,1.00)(1850,0.96)(1900,1.00)(1950,0.97)(2000,1.01)(2050,0.96)(2100,0.99)(2150,0.97)(2200,1.01)(2250,0.96)(2300,0.99)(2350,0.97)(2400,1.00)(2450,0.96)(2500,0.99)(2550,0.97)(2600,1.01)(2650,0.96)(2690,0.90)(2715,0.62)(2740,0.93)(2800,0.99)(2850,0.96)(2900,1.00)(2950,0.97)(3000,1.01)(3050,0.97)(3100,0.95)(3125,0.70)(3150,0.20)(3170,0.75)(3195,0.96)(3240,0.93)(3265,0.55)(3285,0.62)(3300,0.95)(3350,0.98)(3390,0.85)(3400,0.70)(3415,0.95)(3450,0.98)(3500,0.96)(3550,0.99)(3595,0.90)(3620,0.38)(3645,0.85)(3700,0.97)(3750,0.99)(3800,0.96)(3835,0.88)(3860,0.50)(3885,0.90)(3930,0.97)(3960,0.80)(3980,0.95)(4000,0.98)};
\addplot[sblue] coordinates {(-3000,1.00)(-2950,0.99)(-2900,0.97)(-2850,0.95)(-2800,0.92)(-2750,0.88)(-2700,0.83)(-2650,0.78)(-2600,0.74)(-2550,0.70)(-2500,0.66)(-2450,0.62)(-2400,0.58)(-2350,0.53)(-2300,0.49)(-2250,0.45)(-2200,0.41)(-2150,0.38)(-2100,0.35)(-2050,0.33)(-2000,0.27)(-1980,0.25)(-1950,0.30)(-1900,0.37)(-1850,0.42)(-1800,0.48)(-1750,0.53)(-1700,0.58)(-1650,0.63)(-1600,0.68)(-1550,0.73)(-1500,0.78)(-1450,0.83)(-1400,0.87)(-1350,0.92)(-1300,0.96)(-1250,0.99)(-1200,0.99)(-1150,0.93)(-1100,0.87)(-1050,0.80)(-1000,0.72)(-960,0.63)(-940,0.60)(-910,0.68)(-870,0.80)(-820,0.92)(-770,0.98)(-720,1.00)(-670,0.95)(-620,0.89)(-570,0.83)(-520,0.76)(-470,0.71)(-420,0.66)(-370,0.61)(-320,0.57)(-270,0.53)(-220,0.50)(-170,0.47)(-130,0.45)(-90,0.44)(-50,0.42)(-20,0.44)(10,0.47)(50,0.52)(100,0.57)(150,0.62)(200,0.67)(250,0.70)(300,0.73)(350,0.77)(400,0.81)(450,0.85)(500,0.89)(550,0.92)(600,0.95)(650,0.97)(700,0.98)(750,0.96)(800,0.93)(850,0.86)(900,0.77)(940,0.70)(970,0.67)(1000,0.72)(1040,0.82)(1080,0.90)(1120,0.95)(1160,0.98)(1200,0.96)(1250,0.98)(1300,0.95)(1350,0.99)(1400,0.96)(1450,0.98)(1500,0.95)(1550,1.00)(1600,0.96)(1650,0.98)(1700,0.95)(1750,1.00)(1800,0.96)(1850,0.98)(1900,0.95)(1950,0.99)(2000,0.97)(2050,1.00)(2100,0.95)(2150,0.98)(2200,0.96)(2250,1.00)(2300,0.97)(2350,0.99)(2400,0.95)(2450,0.98)(2500,0.96)(2550,1.00)(2600,0.97)(2650,0.99)(2700,0.92)(2720,0.72)(2740,0.95)(2800,0.98)(2850,0.96)(2900,1.00)(2950,0.97)(3000,0.99)(3050,0.96)(3100,0.98)(3130,0.80)(3150,0.35)(3170,0.85)(3200,0.97)(3250,0.95)(3270,0.65)(3290,0.96)(3350,0.99)(3400,0.95)(3450,0.98)(3500,0.96)(3550,0.99)(3600,0.93)(3620,0.45)(3640,0.90)(3700,0.98)(3750,0.95)(3800,0.99)(3840,0.90)(3860,0.58)(3880,0.93)(3920,0.98)(3960,0.95)(4000,0.99)};
\node[plab] at (axis cs:2840,1.25) {SiIV1403};
\end{axis}

\node[rotate=90, font=\widefont\fontsize{11}{13}\selectfont] at (16.7pt,291pt) {Normalized Flux};
\end{tikzpicture}
\end{document}
